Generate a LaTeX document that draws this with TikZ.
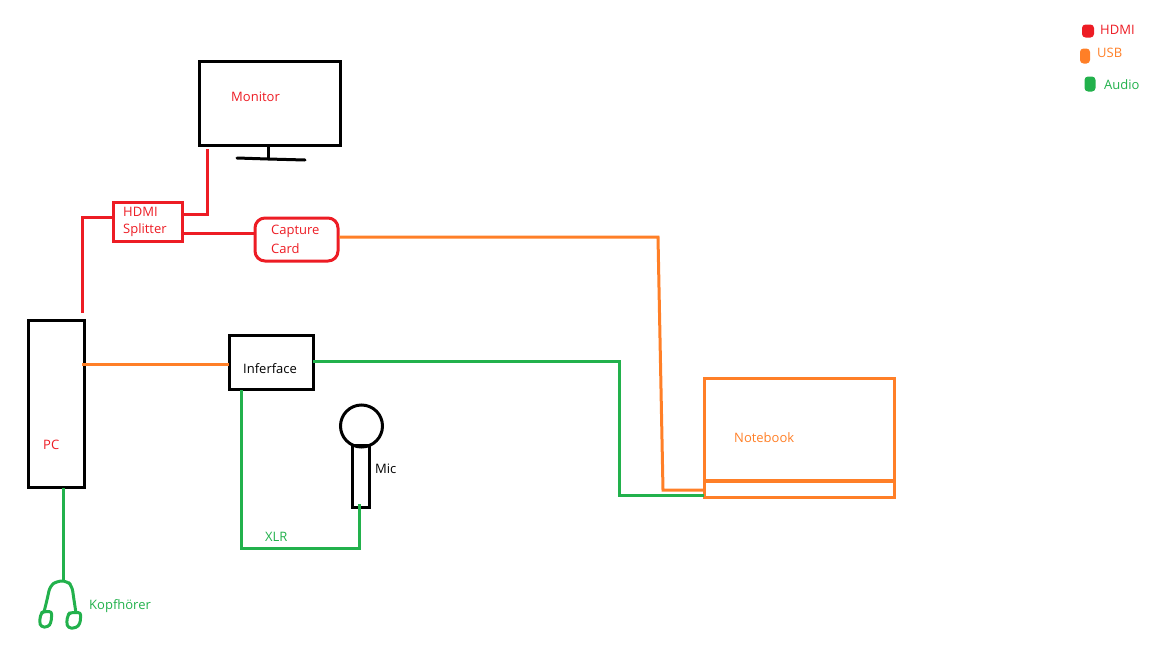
\documentclass[tikz,border=0pt]{standalone}
\usepackage{fontspec}
\setmainfont{Open Sans}
\definecolor{hdmired}{HTML}{ED1C24}
\definecolor{usborange}{HTML}{FF7F27}
\definecolor{audiogreen}{HTML}{22B14C}
\tikzstyle{device} = [draw=black,line width=3pt,inner sep=0pt,outer sep=0pt]
\tikzstyle{hdmibox} = [device,draw=hdmired]
\tikzstyle{usbbox} = [device,draw=usborange]
\tikzstyle{hdmi} = [draw=hdmired,line width=3pt]
\tikzstyle{usb} = [draw=usborange,line width=3pt]
\tikzstyle{audio} = [draw=audiogreen,line width=3pt]
\tikzstyle{phones} = [audio,line join=round,rounded corners=3pt]
\tikzstyle{caption} = [anchor=west,inner sep=0pt,font=\fontsize{13}{15}\selectfont]
\tikzstyle{blob} = [inner sep=0pt,rounded corners=3.5pt]

\begin{document}
\begin{tikzpicture}[x=1pt,y=-1pt]
	\useasboundingbox (0,0) rectangle (1152,648);

	% First we draw the devices
	\node[device,minimum width=141pt,minimum height=84pt] (monitor) at (270,103) {};
	\node[device,minimum width=56pt,minimum height=167pt] (pc) at (56.5,404) {};
	\node[device,minimum width=84pt,minimum height=54pt] (interface) at (271.5,362.5) {};
	\node[hdmibox,minimum width=69pt,minimum height=39pt] (splitter) at (148,221.5) {};
	\node[hdmibox,minimum width=83pt,minimum height=43pt,rounded corners=10pt] (capture) at (296.5,239.5) {};
	\node[usbbox,minimum width=190pt,minimum height=119pt] (notebook) at (799,437.5) {};
	\node[device,circle,minimum size=42pt] (michead) at (361.5,426) {};
	\node[device,minimum width=17pt,minimum height=62pt] (micbody) at (361,476) {};

	% Monitor stand and notebook hinge
	\draw[line width=3pt] (268,147) -- (268,159);
	\draw[line width=3pt,line cap=round] (237,158) -- (268,159) -- (305,160);
	\draw[usb,line width=4pt] (704,481) -- (895,481);

	% Free ends of the connectors
	\foreach \x/\y/\name in {82/313/pcHdmi, 113/217/splitterIn, 183/214/splitterUp, 207/149/monitorIn,
							183/233/splitterOut, 254/233/captureIn, 339/237/captureOut, 704/490/notebookUsb,
							82/364/pcUsb, 229/364/interfaceUsb, 313/361/interfaceOut, 704/495/notebookAudio,
							241/390/interfaceXlr, 359/504/micIn, 63/488/pcAudio, 63/581/phonesIn}
	\coordinate (\name) at (\x,\y);

	% Connect the devices
	\path[hdmi] (pcHdmi) |- (splitterIn);
	\path[hdmi] (splitterUp) -| (monitorIn);
	\path[hdmi] (splitterOut) -- (captureIn);
	\path[usb] (captureOut) -- (658,237) -- (663,490) -- (notebookUsb);
	\path[usb] (pcUsb) -- (interfaceUsb);
	\path[audio] (interfaceOut) -| (619,495) -- (notebookAudio);
	\path[audio] (interfaceXlr) |- (300,548) -| (micIn);
	\path[audio] (pcAudio) -- (phonesIn);

	% Headphones
	\draw[phones,rounded corners=5pt] (44,612) -- (47,600) -- (50,586) -- (57,581) -- (67,581) -- (72,586) -- (74,600) -- (76,613);
	\draw[phones] (44,611.5) -- (52,611.5) -- (51,623) -- (48,627) -- (41,627) -- (39.5,622) -- (41,613) -- cycle;
	\draw[phones] (70,612.5) -- (81,612.5) -- (80,624) -- (76,628) -- (68,628) -- (66.5,622) -- (68,615) -- cycle;

	% Legend
	\node[blob,fill=hdmired,minimum width=12pt,minimum height=13pt] (hdmidot) at (1088,31) {};
	\node[blob,fill=usborange,minimum width=10pt,minimum height=15pt] (usbdot) at (1085,56) {};
	\node[blob,fill=audiogreen,minimum width=11pt,minimum height=15pt] (audiodot) at (1090,84) {};

	% Labels
	\foreach \x/\y/\txt/\col/\name in {1100/30/HDMI/hdmired/lhdmi, 1097/53/USB/usborange/lusb, 1104/85/Audio/audiogreen/laudio,
									231/97/Monitor/hdmired/lmonitor, 123/212/HDMI/hdmired/lsplita, 123/230/Splitter/hdmired/lsplitb,
									271/231/Capture/hdmired/lcapa, 271/249/Card/hdmired/lcapb, 243/369/Inferface/black/linterface,
									43/445/PC/hdmired/lpc, 734/438/Notebook/usborange/lnotebook, 375/469/Mic/black/lmic,
									265/537/XLR/audiogreen/lxlr, 89/606/Kopfhörer/audiogreen/lphones}
	\node[caption,text=\col] (\name) at (\x,\y) {\txt};
\end{tikzpicture}
\end{document}
